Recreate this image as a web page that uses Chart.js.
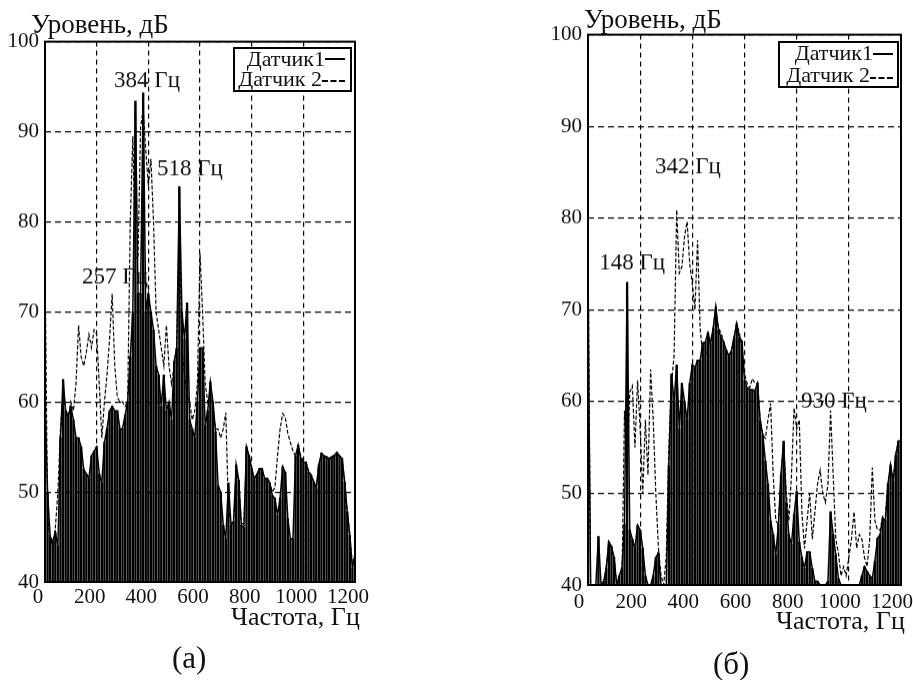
<!DOCTYPE html>
<html>
<head>
<meta charset="utf-8">
<script src="https://cdn.jsdelivr.net/npm/chart.js@4.4.0/dist/chart.umd.min.js"></script>
<style>
  html, body { margin:0; padding:0; background:#fff; width:913px; height:680px; overflow:hidden; }
  .t { position:absolute; font-family:'Liberation Serif','Times New Roman',serif; color:#111; line-height:1; white-space:nowrap; }
  .box { position:absolute; border:2px solid #000; background:#fff; box-sizing:border-box; }
  .lg { position:absolute; font-family:'Liberation Serif','Times New Roman',serif; font-size:22px; line-height:18px; color:#111; white-space:nowrap; }
  .ls { position:absolute; height:0; border-top:2px solid #000; }
  .ld { position:absolute; height:0; border-top:2px dashed #000; }
  .wrap { position:absolute; }
  canvas { display:block; }
</style>
</head>
<body>
<script>
// ---------------- data ----------------
const freqHz = [0,10,20,30,40,50,60,70,80,90,
  100,110,120,130,140,150,160,170,180,190,
  200,210,220,230,240,250,260,270,280,290,
  300,310,320,330,340,350,360,370,380,390,
  400,410,420,430,440,450,460,470,480,490,
  500,510,520,530,540,550,560,570,580,590,
  600,610,620,630,640,650,660,670,680,690,
  700,710,720,730,740,750,760,770,780,790,
  800,810,820,830,840,850,860,870,880,890,
  900,910,920,930,940,950,960,970,980,990,
  1000,1010,1020,1030,1040,1050,1060,1070,1080,1090,
  1100,1110,1120,1130,1140,1150,1160,1170,1180,1190,
  1200];

// Panel (а): Датчик1 (solid)
const levelA1 = [60,50,45,44.5,45.5,44,56,62.5,59,58.5,
  59.5,58,56,56,55,52.5,52,51.5,54,54.5,
  55,52,51,55.5,57,59,59.5,59,59,57,
  57,58.5,60,65,70,93.4,72,72,94.3,70,
  72,70,68,64,63,59.5,63,59,60,58,
  64.5,66,83.9,70,67,71,58,57,56,60,
  66,66,57.4,59,62.2,60,56.7,50.7,50,46.3,
  44.8,51,46.3,46.7,53,51.3,46.3,46,55,54,
  52.6,51.5,51.9,52.6,52.6,51.5,51.5,51,49.6,49.3,
  47.4,49.3,52.8,52.2,47,44.8,44.8,54,55.2,53.7,
  53.3,53.3,52.2,51.9,51.1,50.4,53,54.3,54,53.9,
  53.7,53.9,54,54.4,54,53.7,51.1,47.8,45.2,41.5,
  43];
// Panel (а): Датчик 2 (dashed)
const levelA2 = [76,47,45,44,46,50,57,61,59,58,
  60,59,62,68.5,65,64,65.5,67.5,66,68,
  67.5,62,56,60,63,67,72,64,60.5,60,
  60,59.5,60,80,89.5,76,76,90.5,92.4,88,
  84,87,80,70,68,66,64,68.5,64,62,
  64,66,80,66,63,61,60,58,59,62,
  76.5,70,62,60,61,59.5,57,57,56,57,
  58.8,48,46.5,46.5,52.5,51,46.5,46.5,54.5,54,
  52.5,51.5,52,52.5,52.5,51.5,51.5,51,50,50.5,
  54,57,58.7,58.3,56.5,55.5,54.5,54,55,54,
  53.5,53.3,52.4,51.8,51.2,50.6,53,54.1,54,53.8,
  53.6,53.9,54.1,54.3,54,53.6,51.3,47.6,45.3,41.7,
  43];

// Panel (б): Датчик1 (solid)
const levelB1 = [70,40,40,40,45.3,40,40.4,41.8,44.7,44.2,
  43,40,41,41.8,46.6,73,46,45,44,46.5,
  46,44,41,40,40,41,43,43.5,40,40,
  40,53,63,60,64,57,62,60,58,62,
  64,63.7,64.5,64.5,66.4,66.5,67.5,66.3,68,70.3,
  67.8,67,66.5,65.6,65,65.5,67,68.5,67,66.6,
  62.3,61.5,61.3,61.3,61.2,62,57.9,56.4,53.5,51,
  47,45.5,43.3,46.6,52,55.7,49,45.5,44.4,47.7,
  50.2,44.7,43,41.8,43.6,43.6,41.8,40.4,40.4,40,
  40,40,40.4,48,45.5,43.3,40.7,40,40,40,
  40,40,40,40,40,41,42,41.5,41,40.7,
  42.6,45.1,45.5,47.3,47,51,53.1,51.3,54.2,55.7,
  55.7];
// Panel (б): Датчик 2 (dashed)
const levelB2 = [78,40,40,40,40,40,40,42,44.7,44,
  43,40,40,40,59,52,61,61.7,55,62.3,
  57,50,58,52,63.5,58,50,44,41,40,
  43,55,62,65,80.9,74,74.7,78,79.6,75,
  72.8,70,77.6,68,65,65,66,66.5,68,70.3,
  68,67.5,66.5,65.5,65,65.5,67,68.5,67.5,66,
  63,62,61.5,62.5,62,62,58,56.4,56,58,
  59.8,52,47,46.6,52,55.7,50,47,52,59.3,
  57,58,48,44,47,50,45,48,51,52.5,
  50,49,51,59,52,45,43.5,41,42,41,
  43,45,48,44,45.5,45,43,42,45,52.8,
  47,46,46,47.5,47.5,51,53.1,51.3,54.2,55.7,
  55.7];

const xTickLabels = ['0','200','400','600','800','1000','1200'];
const yTickLabels = ['40','50','60','70','80','90','100'];
// peak captions, placed in data units (label centre)
const peaksA = [ {lx:395, ly:95.6, text:'384 Гц'}, {lx:561, ly:85.8, text:'518 Гц'}, {lx:271, ly:73.8, text:'257 Гц'} ];
const peaksB = [ {lx:383, ly:85.6, text:'342 Гц'}, {lx:169, ly:75.1, text:'148 Гц'}, {lx:943, ly:60.0, text:'930 Гц'} ];
const legendNames = ['Датчик1', 'Датчик 2'];
const yTitle = 'Уровень, дБ';
const xTitle = 'Частота, Гц';
// ---------------------------------------

const FONT = "'Liberation Serif','Times New Roman',serif";

const framePlugin = {
  id: 'frame',
  afterDatasetsDraw(chart) {
    const {ctx, chartArea: a} = chart;
    ctx.save();
    ctx.strokeStyle = '#000'; ctx.lineWidth = 2; ctx.setLineDash([]);
    ctx.strokeRect(a.left, a.top, a.right - a.left, a.bottom - a.top);
    ctx.restore();
  }
};
const peakPlugin = {
  id: 'peakLabels',
  afterDatasetsDraw(chart, args, opts) {
    const {ctx} = chart;
    const xs = chart.scales.x, ys = chart.scales.y;
    ctx.save();
    ctx.font = opts.size + 'px ' + FONT;
    ctx.fillStyle = '#111';
    ctx.textAlign = 'center'; ctx.textBaseline = 'middle';
    (opts.items || []).forEach(p => ctx.fillText(p.text, xs.getPixelForValue(p.lx), ys.getPixelForValue(p.ly)));
    ctx.restore();
  }
};

function buildChart(cv, cfg) {
  const pts = arr => freqHz.map((f, i) => ({x: f, y: arr[i]}));
  return new Chart(cv, {
    data: {
      datasets: [
        { type:'line', label: legendNames[1], data: pts(cfg.s2), borderColor:'#000', borderWidth:1.2,
          borderDash:[4,2], pointRadius:0, tension:0, order:1 },
        { type:'line', label: legendNames[0], data: pts(cfg.s1), borderColor:'#000', borderWidth:1.5,
          pointRadius:0, tension:0, order:2 },
        { type:'bar', label: legendNames[0] + ' bars', data: pts(cfg.s1), backgroundColor:'#000',
          barThickness:1.7, order:3 }
      ]
    },
    options: {
      responsive:false, maintainAspectRatio:false, animation:false, devicePixelRatio:1,
      layout: { padding: {top:0, right:0, bottom:0, left:0} },
      plugins: { legend:{display:false}, tooltip:{enabled:false},
        peakLabels: { items: cfg.peaks, size: 23 } },
      scales: {
        x: { type:'linear', min:0, max:1200, offset:false,
          ticks: { stepSize:200, color:'#111', font:{family:FONT, size:21}, padding:cfg.xpad, maxRotation:0,
            labelOffset: cfg.lo,
            callback: (v) => xTickLabels[Math.round(v/200)] },
          grid: { color:'#000', lineWidth:1.2, drawTicks:false, offset:false },
          border: { display:false, dash:[5,4] },
          afterFit: s => { s.height = cfg.xh; } },
        y: { type:'linear', min:40, max:100,
          ticks: { stepSize:10, color:'#111', font:{family:FONT, size:21}, padding:6,
            callback: (v) => yTickLabels[Math.round((v-40)/10)] },
          grid: { color:'#000', lineWidth:1.2, drawTicks:false },
          border: { display:false, dash:[6,4] },
          afterFit: s => { s.width = cfg.yw; } }
      }
    },
    plugins: [framePlugin, peakPlugin]
  });
}

function makePanel(cfg) {
  const wrap = document.createElement('div');
  wrap.className = 'wrap';
  document.body.appendChild(wrap);
  let w = 380, h = 600;
  const mk = () => {
    wrap.innerHTML = '';
    wrap.style.width = w + 'px'; wrap.style.height = h + 'px';
    const cv = document.createElement('canvas');
    cv.width = w; cv.height = h; cv.style.width = w + 'px'; cv.style.height = h + 'px';
    wrap.appendChild(cv);
    return buildChart(cv, cfg);
  };
  let ch = mk();
  let a = ch.chartArea;
  w += (cfg.R - cfg.L) - (a.right - a.left);
  h += (cfg.B - cfg.T) - (a.bottom - a.top);
  ch.destroy();
  ch = mk();
  a = ch.chartArea;
  wrap.style.left = (cfg.L - a.left) + 'px';
  wrap.style.top = (cfg.T - a.top) + 'px';
}

function addText(txt, left, top, size) {
  const d = document.createElement('div');
  d.className = 't'; d.textContent = txt;
  d.style.left = left + 'px'; d.style.top = top + 'px'; d.style.fontSize = size + 'px';
  document.body.appendChild(d);
}
function addLegend(left, top, w, h, t1r, t1y, t2r, t2y, l1, l2) {
  const b = document.createElement('div');
  b.className = 'box';
  b.style.left = left + 'px'; b.style.top = top + 'px'; b.style.width = w + 'px'; b.style.height = h + 'px';
  const a = document.createElement('div'); a.className = 'lg'; a.textContent = legendNames[0];
  a.style.right = t1r + 'px'; a.style.top = t1y + 'px';
  const c = document.createElement('div'); c.className = 'lg'; c.textContent = legendNames[1];
  c.style.right = t2r + 'px'; c.style.top = t2y + 'px';
  const s = document.createElement('div'); s.className = 'ls';
  s.style.left = l1[0] + 'px'; s.style.width = l1[1] + 'px'; s.style.top = l1[2] + 'px';
  const d = document.createElement('div'); d.className = 'ld';
  d.style.left = l2[0] + 'px'; d.style.width = l2[1] + 'px'; d.style.top = l2[2] + 'px';
  b.appendChild(a); b.appendChild(c); b.appendChild(s); b.appendChild(d);
  document.body.appendChild(b);
}

makePanel({ L:45, T:42, R:355, B:582, xh:28, yw:45, xpad:3, lo:-7, s1:levelA1, s2:levelA2, peaks:peaksA });
makePanel({ L:588, T:35, R:901, B:585, xh:35, yw:43, xpad:5, lo:-9, s1:levelB1, s2:levelB2, peaks:peaksB });

addText(yTitle, 31, 11, 27);
addText(yTitle, 584, 6, 27);
addText(xTitle, 231, 604, 26);
addText(xTitle, 776, 608, 26);
addText('(а)', 172, 642, 31);
addText('(б)', 713, 648, 31);

addLegend(233, 47, 119, 45, 25, 1, 28, 21, [90,20,9], [87,23,31]);
addLegend(778, 41, 121, 47, 24, 1, 27, 23, [93,20,10], [90,23,34]);
</script>
</body>
</html>
